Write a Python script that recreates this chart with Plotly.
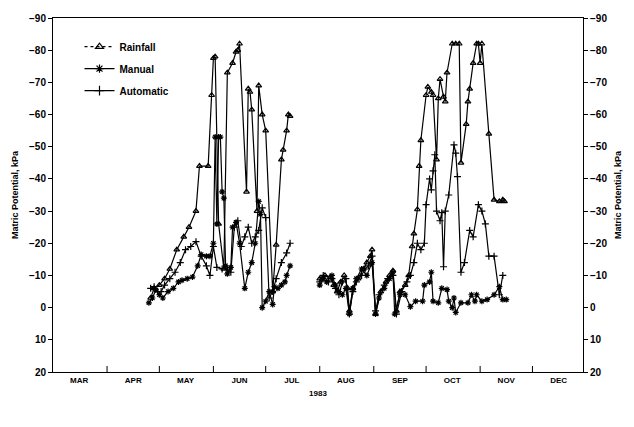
import plotly.graph_objects as go

Y = "1983-"

# ---------------- data ----------------
rain_d1 = ["04-26","04-28","05-01","05-04","05-07","05-11","05-15","05-18","05-22","05-24",
           "05-29","05-31","06-01","06-02","06-04","06-07","06-09","06-12","06-14","06-15",
           "06-16","06-20","06-21","06-22","06-23","06-26","06-27","06-29","07-01","07-05",
           "07-07","07-10","07-11","07-13","07-14","07-15"]
rain_v1 = [-3,-6,-7,-9,-12,-18,-22,-25,-30,-44,
           -44,-66,-77.5,-78,-26,-12,-73,-76,-79.5,-80,
           -82,-36,-68,-67,-61.5,-30,-69,-60,-55,-5,
           -19.5,-46,-49,-55,-60,-59.5]
rain_d2 = ["08-01","08-04","08-07","08-09","08-11","08-13","08-15","08-17","08-18","08-20",
           "08-23","08-26","08-28","08-30","08-31","09-02","09-05","09-08","09-10","09-12",
           "09-14","09-16","09-19","09-21","09-23","09-24","09-26","09-27","09-28","10-01",
           "10-02","10-04","10-05","10-07","10-08","10-09","10-11","10-12","10-13","10-16",
           "10-18","10-20","10-21","10-24","10-25","10-26","10-28","10-30","10-31","11-01",
           "11-02","11-06","11-09","11-12","11-14","11-15"]
rain_v2 = [-9,-10,-9.5,-7,-5,-8,-10,-6,1,-6,
           -9,-12,-14,-16,-18,2,-5,-8,-10,-11.5,
           1,-5,-7,-10,-19,-23,-30.5,-44,-52,-66,
           -68.6,-67,-66,-46,-65,-71,-65.5,-64,-73,-82,
           -82,-82,-45,-57,-64,-68,-76,-82,-82,-76,
           -82,-54,-33.5,-33,-33.5,-33]

man_d1 = ["04-25","04-27","04-29","05-01","05-03","05-06","05-09","05-12","05-14","05-17",
          "05-20","05-23","05-25","05-28","05-30","06-01","06-02","06-03","06-04","06-05",
          "06-06","06-07","06-08","06-09","06-11","06-12","06-14","06-16","06-19","06-21",
          "06-23","06-25","06-27","06-28","06-29","07-01","07-03","07-05","07-06","07-08",
          "07-10","07-12","07-13","07-15"]
man_v1 = [-1.5,-3,-5.5,-4,-3,-5,-6,-8,-8.5,-9,
          -9.5,-13,-16.5,-16,-16,-20,-53,-26,-53,-53,
          -36,-34,-13,-10.5,-12.5,-25,-26.5,-20,-6,-11,
          -14,-20,-33,-29,0,-2,-5,-1,-6.5,-6,
          -7,-8,-10,-13]
man_d2 = ["08-01","08-03","08-05","08-08","08-10","08-12","08-14","08-16","08-18","08-20",
          "08-22","08-25","08-28","08-31","09-02","09-04","09-07","09-10","09-12","09-13",
          "09-16","09-19","09-22","09-25","09-29","09-30","10-03","10-04","10-05","10-08",
          "10-10","10-13","10-14","10-16","10-17","10-18","10-21","10-25","10-27","10-29",
          "10-30","11-02","11-05","11-09","11-12","11-14","11-16"]
man_v2 = [-7,-9,-8,-10,-7,-5,-4,-6,2,-6,
          -9,-12,-10,-14,2,-3,-6,-9,-11,2,
          -4,-4,-0.3,-2,-2,-7,-8,-11,-2,-1.5,
          -6,-5.6,-2,0,-3,1.5,-1.5,-1.5,-4,-2,
          -4,-2,-2.5,-4,-6.5,-2.5,-2.5]

auto_d1 = ["04-26","04-28","04-30","05-02","05-04","05-07","05-10","05-13","05-16","05-19",
           "05-22","05-25","05-28","05-30","06-01","06-03","06-06","06-09","06-11","06-13",
           "06-15","06-17","06-19","06-21","06-23","06-25","06-27","06-29","07-01","07-03",
           "07-05","07-07","07-10","07-13","07-15"]
auto_v1 = [-6,-6.5,-5,-5,-7,-9,-11,-14,-18,-19,
           -20.5,-16,-13,-10,-19,-12.5,-12,-12,-11,-25,
           -27,-19,-22,-25,-20,-22,-24,-31,-28,-3,
           -5,-9,-14,-17,-20]
auto_d2 = ["08-01","08-03","08-06","08-08","08-10","08-12","08-14","08-16","08-18","08-20",
           "08-22","08-25","08-27","08-29","08-31","09-02","09-04","09-07","09-09","09-12",
           "09-14","09-17","09-20","09-22","09-24","09-26","09-28","09-30","10-01","10-03",
           "10-04","10-05","10-06","10-07","10-09","10-10","10-11","10-12","10-14","10-17",
           "10-18","10-19","10-21","10-23","10-26","10-28","10-31","11-02","11-04","11-06",
           "11-09","11-12","11-14"]
auto_v2 = [-8,-10,-8,-9,-6,-4,-8,-9,2,-5,
           -8,-10,-12,-13,-16,1,-4,-7,-9,-10,
           2,-5,-8,-10,-14,-20,-18,-20,-32,-40,
           -36.6,-42.5,-47.5,-30,-27,-29.5,-12.7,-30,-35,-50.6,
           -48,-40.7,-11,-14,-24,-22,-32,-30,-26,-16,
           -16,-4,-10]

month_starts = ["04-01","05-01","06-01","07-01","08-01","09-01","10-01","11-01","12-01"]
month_mids = ["03-16","04-16","05-16","06-16","07-16","08-16","09-16","10-16","11-16","12-16"]
month_text = ["MAR","APR","MAY","JUN","JUL","AUG","SEP","OCT","NOV","DEC"]
y_ticks = [-90,-80,-70,-60,-50,-40,-30,-20,-10,0,10,20]
x_range = ["1983-03-01", "1983-12-30"]

series = [
    ("Rainfall", rain_d1, rain_v1, rain_d2, rain_v2, "triangle-up-open", "dot"),
    ("Manual", man_d1, man_v1, man_d2, man_v2, "asterisk-open", "solid"),
    ("Automatic", auto_d1, auto_v1, auto_d2, auto_v2, "cross-thin-open", "solid"),
]

FONT = "Liberation Sans"
fig = go.Figure()
for name, d1, v1, d2, v2, sym, dash in series:
    xs = [Y + d for d in d1] + [None] + [Y + d for d in d2]
    ys = v1 + [None] + v2
    fig.add_trace(go.Scatter(
        x=xs, y=ys, mode="lines+markers", name=name, showlegend=False,
        connectgaps=False,
        line=dict(color="black", width=1.2),
        marker=dict(symbol=sym, size=5, color="black", line=dict(color="black", width=1.2)),
    ))
# legend samples
for name, d1, v1, d2, v2, sym, dash in series:
    fig.add_trace(go.Scatter(
        x=[None], y=[None], mode="lines+markers", name=name, legendgroup=name,
        line=dict(color="black", width=1.1, dash=dash),
        marker=dict(symbol=sym, size=7, color="black", line=dict(color="black", width=1.2)),
    ))
# carrier for the right y axis
fig.add_trace(go.Scatter(x=[None], y=[None], yaxis="y2", showlegend=False, hoverinfo="skip"))

# month-boundary tick marks pointing up from the bottom axis
for d in month_starts:
    fig.add_shape(type="line", xref="x", yref="y domain",
                  x0=Y + d, x1=Y + d, y0=0, y1=0.017,
                  line=dict(color="black", width=1))

fig.update_layout(
    width=634, height=427,
    margin=dict(l=53, r=45, t=18, b=55),
    paper_bgcolor="white", plot_bgcolor="white",
    font=dict(family=FONT, color="black", size=10, weight="bold"),
    showlegend=True,
    legend=dict(x=0.05, y=0.96, xanchor="left", yanchor="top",
                bgcolor="rgba(0,0,0,0)", font=dict(size=10, weight="bold"),
                traceorder="grouped", tracegroupgap=3),
    xaxis=dict(
        type="date", range=x_range,
        tickmode="array", tickvals=[Y + d for d in month_mids], ticktext=month_text,
        ticks="", tickfont=dict(size=8, weight="bold"),
        showgrid=False, zeroline=False,
        showline=True, linecolor="black", linewidth=1, mirror=True,
        title=dict(text="1983", font=dict(size=8, weight="bold"), standoff=6),
    ),
    yaxis=dict(
        range=[20, -90], tickmode="array", tickvals=y_ticks,
        ticks="outside", ticklen=4, tickcolor="black",
        tickfont=dict(size=10, weight="bold"),
        showgrid=False, zeroline=False,
        showline=True, linecolor="black", linewidth=1,
        title=dict(text="Matric Potential, kPa", font=dict(size=9, weight="bold"), standoff=8),
    ),
    yaxis2=dict(
        range=[20, -90], overlaying="y", side="right", tickmode="array", tickvals=y_ticks,
        ticks="outside", ticklen=4, tickcolor="black",
        tickfont=dict(size=10, weight="bold"),
        showgrid=False, zeroline=False,
        showline=True, linecolor="black", linewidth=1,
        title=dict(text="Matric Potential, kPa", font=dict(size=9, weight="bold"), standoff=8),
    ),
)

fig.write_html("out.html")
